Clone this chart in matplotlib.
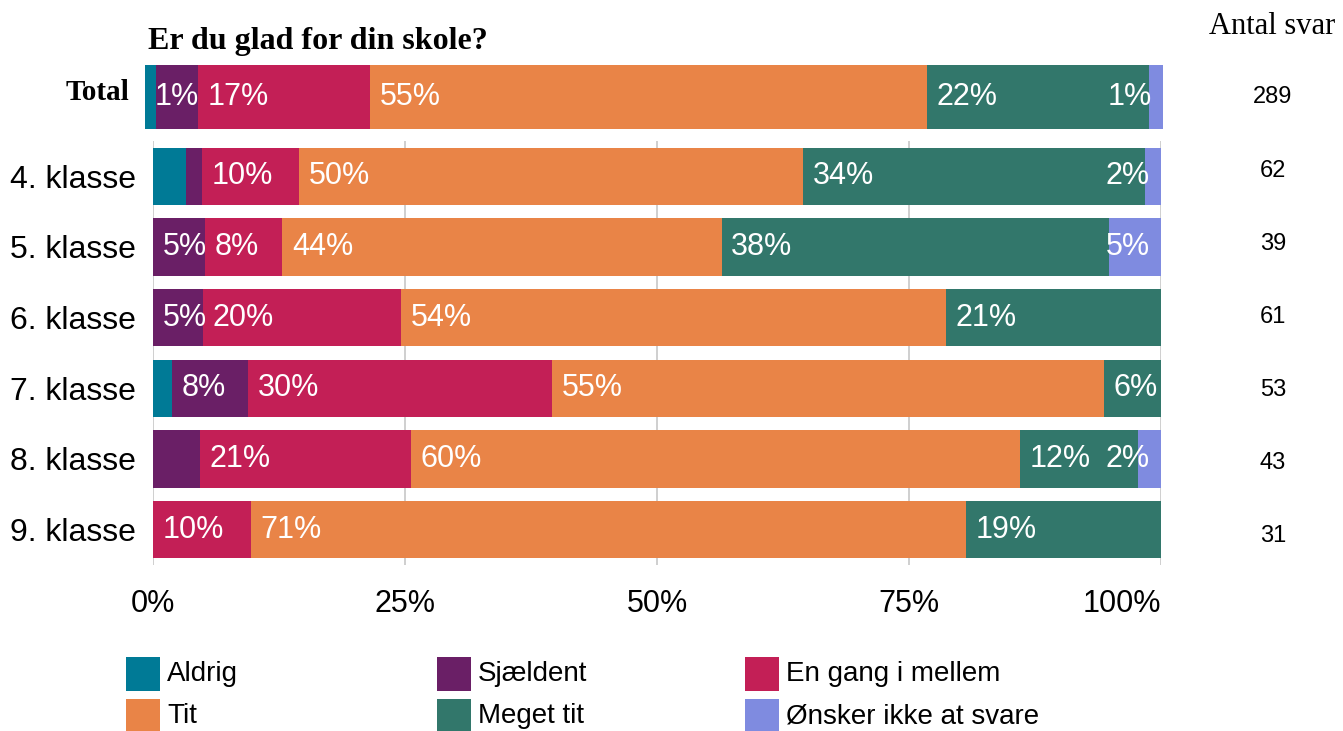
import numpy as np
import matplotlib.pyplot as plt
from matplotlib.patches import Rectangle

# Survey answers: "Er du glad for din skole?" per grade, as counts
grades = ["4. klasse", "5. klasse", "6. klasse", "7. klasse", "8. klasse", "9. klasse"]
categories = ["Aldrig", "Sjældent", "En gang i mellem", "Tit", "Meget tit", "Ønsker ikke at svare"]
colors = ["#007a96", "#6a1f66", "#c31f56", "#e98447", "#32776b", "#7f8be0"]

aldrig = [2, 0, 0, 1, 0, 0]
sjaeldent = [1, 2, 3, 4, 2, 0]
en_gang = [6, 3, 12, 16, 9, 3]
tit = [31, 17, 33, 29, 26, 22]
meget_tit = [21, 15, 13, 3, 5, 6]
oensker_ikke = [1, 2, 0, 0, 1, 0]
n_svar = [62, 39, 61, 53, 43, 31]

total_counts = [3, 12, 49, 158, 63, 4]
n_total = 289

# small segments get no label, except the ones listed here
min_label = 4.8
forced_labels = [("Total", "Aldrig")]

W, H = 1343, 731
sans = "Liberation Sans"
serif = "Liberation Serif"

fig = plt.figure(figsize=(W / 100, H / 100), dpi=100)
ax = fig.add_axes([153 / W, 1 - 565 / H, 1008 / W, 424 / H])
ax_tot = fig.add_axes([145 / W, 1 - 129 / H, 1018 / W, 64 / H])
ax_n = fig.add_axes([1233 / W, 1 - 572.5 / H, 80 / W, 438 / H])


def draw_row(axis, y, counts, n, name, height):
    pct = np.array(counts) / n * 100
    left = 0.0
    for j, (p, c) in enumerate(zip(pct, colors)):
        if p > 0:
            axis.barh(y, p, left=left, height=height, color=c, linewidth=0)
            last = j == len(categories) - 1
            show = p >= min_label or last or (name, categories[j]) in forced_labels
            if show:
                if last:
                    axis.annotate(f"{round(p)}%", xy=(100, y), xytext=(-8, 0),
                                  textcoords="offset points", ha="right", va="center",
                                  color="white", fontsize=22, family=sans)
                else:
                    axis.annotate(f"{round(p)}%", xy=(left, y), xytext=(7, 0),
                                  textcoords="offset points", ha="left", va="center",
                                  color="white", fontsize=22, family=sans)
        left += p


# grade rows
rows = np.array([aldrig, sjaeldent, en_gang, tit, meget_tit, oensker_ikke]).T
for i, g in enumerate(grades):
    draw_row(ax, i, rows[i], n_svar[i], g, 0.81)

ax.set_xlim(0, 100)
ax.set_ylim(5.5, -0.5)
ax.set_xticks([0, 25, 50, 75, 100])
ax.set_xticklabels(["0%", "25%", "50%", "75%", "100%"], fontsize=22, family=sans)
ax.get_xticklabels()[-1].set_ha("right")
ax.set_yticks(range(len(grades)))
ax.set_yticklabels(grades, fontsize=23, family=sans)
ax.tick_params(axis="x", length=0, pad=17)
ax.tick_params(axis="y", length=0, pad=12)
ax.grid(axis="x", color="#cccccc", linewidth=1.3)
ax.set_axisbelow(True)
for s in ax.spines.values():
    s.set_visible(False)

# total row on its own axis
draw_row(ax_tot, 0, total_counts, n_total, "Total", 1.0)
ax_tot.set_xlim(0, 100)
ax_tot.set_ylim(-0.5, 0.5)
ax_tot.set_xticks([])
ax_tot.set_yticks([])
ax_tot.annotate("Total", xy=(0, 0), xycoords=ax_tot.get_yaxis_transform(),
                xytext=(-11, 3.5), textcoords="offset points", ha="right", va="center",
                fontsize=21, family=serif, fontweight="bold")
for s in ax_tot.spines.values():
    s.set_visible(False)

# number of answers column
ax_n.set_ylim(5.5, -0.5)
ax_n.set_xlim(0, 1)
ax_n.axis("off")
for i, n in enumerate(n_svar):
    ax_n.text(0.5, i, str(n), ha="center", va="center", fontsize=17, family=sans)
ax_tot.text((1273 - 145) / 1018, 0, str(n_total), transform=ax_tot.get_yaxis_transform(),
            ha="center", va="center", fontsize=17, family=sans)

fig.text(1272 / W, 1 - 27 / H, "Antal svar", ha="center", va="center",
         fontsize=22, family=serif)
fig.text(148 / W, 1 - 42 / H, "Er du glad for din skole?", ha="left", va="center",
         fontsize=23, family=serif, fontweight="bold")

# legend, two rows of three
leg_x = [126, 437, 745]
leg_y = [674, 716]
for k, (cat, c) in enumerate(zip(categories, colors)):
    px = leg_x[k % 3]
    py = leg_y[k // 3]
    fig.add_artist(Rectangle((px / W, 1 - (py + 17) / H), 34 / W, 34 / H,
                             transform=fig.transFigure, color=c, linewidth=0))
    fig.text((px + 41) / W, 1 - py / H, cat, ha="left", va="center",
             fontsize=20, family=sans)

fig.savefig("out.png", dpi=100)
